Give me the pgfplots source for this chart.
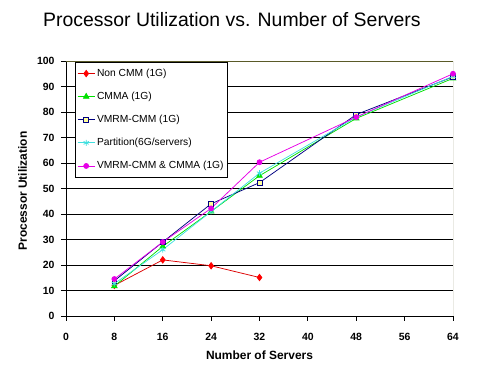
\documentclass[border=0pt]{standalone}
\usepackage{fontspec}
\setmainfont{Liberation Sans}
\usepackage{pgfplots}
\pgfplotsset{compat=1.18}
\definecolor{cred}{RGB}{220,0,0}
\definecolor{cgreen}{RGB}{0,225,0}
\definecolor{cnavy}{RGB}{0,0,128}
\definecolor{cyell}{RGB}{255,255,153}
\definecolor{ccyan}{RGB}{64,224,224}
\definecolor{cmag}{RGB}{230,0,230}
\definecolor{cborder}{RGB}{90,90,40}
\begin{document}
\begin{tikzpicture}
\useasboundingbox (-66bp,-63bp) rectangle (413bp,316bp);
\begin{axis}[
  at={(0,0)}, anchor=south west,
  scale only axis, width=387bp, height=255bp,
  xmin=0, xmax=64, ymin=0, ymax=100,
  xtick={0,8,...,64}, ytick={0,10,...,100},
  axis x line*=bottom, axis y line*=left,
  axis line style={-, black, line width=0.8bp},
  tick align=outside, major tick length=5bp,
  tick style={black, line width=0.8bp},
  ymajorgrids, grid style={black, line width=0.75bp},
  ticklabel style={font=\bfseries\fontsize{10.5}{12}\selectfont},
  xticklabel style={yshift=-9bp},
  yticklabel style={xshift=-3bp},
  /pgf/number format/assume math mode=true,
  title={Processor Utilization vs. Number of Servers},
  title style={font=\fontsize{19.5}{23}\selectfont, at={(axis description cs:0.4289,1.1137)}, anchor=base},
  xlabel={Number of Servers},
  xlabel style={font=\bfseries\fontsize{12}{14}\selectfont, at={(axis description cs:0.5,-0.1725)}, anchor=base},
  ylabel={Processor Utilization},
  ylabel style={font=\bfseries\fontsize{12}{14}\selectfont, at={(axis description cs:-0.1008,0.49)}, anchor=base},
  legend style={at={(axis description cs:0.0233,0.996)}, anchor=north west,
    draw=black, line width=0.6bp, fill=white,
    font=\fontsize{10.3}{12}\selectfont, row sep=8.6bp,
    inner xsep=2bp, inner ysep=4bp,
    nodes={text height=8bp, text depth=2.5bp, inner sep=2bp}},
  legend cell align=left,
]
\draw[color=cborder, line width=0.8bp] (rel axis cs:0,1) -- (rel axis cs:1,1) -- (rel axis cs:1,0);
\addplot[color=cred, line width=0.75bp, mark=diamond*, mark size=3.2bp, mark options={fill=red, draw=red, solid}]
  coordinates {(8,12) (16,22) (24,19.7) (32,15.1)};
\addlegendentry{Non CMM (1G)}
\addplot[color=cgreen, line width=0.75bp, mark=triangle*, mark size=3.2bp, mark options={fill=cgreen, draw=cgreen, solid}]
  coordinates {(8,11.7) (16,27.3) (24,41) (32,55) (48,77.5) (64,93.2)};
\addlegendentry{CMMA (1G)}
\addplot[color=cnavy, line width=0.75bp, mark=square*, mark size=2.4bp, mark options={fill=cyell, draw=cnavy, solid}]
  coordinates {(8,13.8) (16,29) (24,44) (32,52.3) (48,79) (64,93.8)};
\addlegendentry{VMRM-CMM (1G)}
\addplot[color=ccyan, line width=0.75bp, mark=asterisk, mark size=3bp, mark options={draw=ccyan, solid}]
  coordinates {(8,12.7) (16,26) (24,41) (32,56) (48,78) (64,94)};
\addlegendentry{Partition(6G/servers)}
\addplot[color=cmag, line width=0.75bp, mark=*, mark size=2.5bp, mark options={fill=cmag, draw=cmag, solid}]
  coordinates {(8,14.5) (16,29) (24,42.2) (32,60.3) (48,78) (64,95)};
\addlegendentry{VMRM-CMM \& CMMA (1G)}
\end{axis}
\end{tikzpicture}
\end{document}
